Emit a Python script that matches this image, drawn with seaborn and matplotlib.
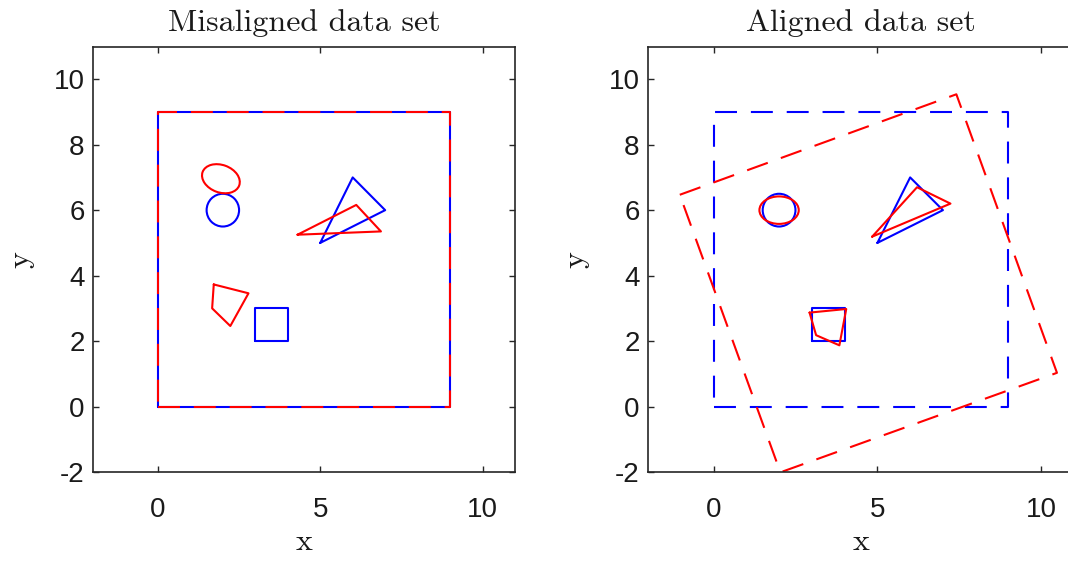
import numpy as np
import pandas as pd
import matplotlib
matplotlib.use("Agg")
import matplotlib.pyplot as plt
from matplotlib.patches import Circle, Ellipse
import seaborn as sns

# ---------------- data ----------------
# reference (blue) data set
blue_frame_x = [0, 9, 9, 0]
blue_frame_y = [0, 0, 9, 9]
blue_tri_x = [5, 6, 7]
blue_tri_y = [5, 7, 6]
blue_sq_x = [3, 4, 4, 3]
blue_sq_y = [2, 2, 3, 3]
blue_circ_center = (2.0, 6.0)
blue_circ_radius = 0.5

# misaligned (red) data set
mis_frame_x = [0, 9, 9, 0]
mis_frame_y = [0, 0, 9, 9]
mis_tri_x = [4.30, 6.11, 6.87]
mis_tri_y = [5.25, 6.16, 5.35]
mis_quad_x = [1.72, 2.79, 2.23, 1.67]
mis_quad_y = [3.73, 3.46, 2.46, 3.00]
mis_ell_center = (1.94, 6.96)
mis_ell_size = (1.20, 0.84)
mis_ell_angle = -20

# aligned (red) data set
ali_frame_x = [-1.03, 7.41, 10.48, 2.04]
ali_frame_y = [6.47, 9.54, 1.03, -2.01]
ali_tri_x = [4.84, 6.21, 7.23]
ali_tri_y = [5.19, 6.70, 6.20]
ali_quad_x = [2.93, 4.05, 3.84, 3.13]
ali_quad_y = [2.87, 2.98, 1.87, 2.18]
ali_ell_center = (2.0, 6.0)
ali_ell_size = (1.20, 0.84)
ali_ell_angle = 0

titles = ["Misaligned data set", "Aligned data set"]
xticks = [0, 5, 10]
yticks = [-2, 0, 2, 4, 6, 8, 10]

# ---------------- style ----------------
sns.set_theme(style="white")
plt.rcParams["font.family"] = ["Liberation Sans Narrow", "Liberation Sans", "DejaVu Sans"]
plt.rcParams["axes.unicode_minus"] = False
plt.rcParams["lines.scale_dashes"] = False

BLUE = "#0000ff"
RED = "#ff0000"
LW = 1.5
DASH = (0, (15.8, 10.0))
AX_COL = "#262626"


def closed(xs, ys):
    return list(xs) + [xs[0]], list(ys) + [ys[0]]


def poly(ax, xs, ys, color, ls="-", z=2):
    cx, cy = closed(xs, ys)
    df = pd.DataFrame({"x": cx, "y": cy})
    sns.lineplot(data=df, x="x", y="y", sort=False, estimator=None, ax=ax,
                 color=color, linewidth=LW, linestyle=ls, zorder=z)


fig = plt.figure(figsize=(10.68, 5.63), dpi=100)
W, H = 1068, 563
ax1 = fig.add_axes([93 / W, (H - 472) / H, 422 / W, 425.5 / H])
ax2 = fig.add_axes([648 / W, (H - 472) / H, 426 / W, 425.5 / H])

# left panel
poly(ax1, blue_frame_x, blue_frame_y, BLUE, z=2)
poly(ax1, mis_frame_x, mis_frame_y, RED, DASH, z=3)
poly(ax1, blue_tri_x, blue_tri_y, BLUE)
poly(ax1, blue_sq_x, blue_sq_y, BLUE)
ax1.add_patch(Circle(blue_circ_center, blue_circ_radius, fill=False, ec=BLUE, lw=LW))
poly(ax1, mis_tri_x, mis_tri_y, RED)
poly(ax1, mis_quad_x, mis_quad_y, RED)
ax1.add_patch(Ellipse(mis_ell_center, *mis_ell_size, angle=mis_ell_angle,
                      fill=False, ec=RED, lw=LW))

# right panel
poly(ax2, blue_frame_x, blue_frame_y, BLUE, DASH)
poly(ax2, ali_frame_x, ali_frame_y, RED, DASH)
poly(ax2, blue_tri_x, blue_tri_y, BLUE)
poly(ax2, blue_sq_x, blue_sq_y, BLUE)
ax2.add_patch(Circle(blue_circ_center, blue_circ_radius, fill=False, ec=BLUE, lw=LW))
poly(ax2, ali_tri_x, ali_tri_y, RED)
poly(ax2, ali_quad_x, ali_quad_y, RED)
ax2.add_patch(Ellipse(ali_ell_center, *ali_ell_size, angle=ali_ell_angle,
                      fill=False, ec=RED, lw=LW))

for ax, t in zip([ax1, ax2], titles):
    ax.set_xlim(-2, 11)
    ax.set_ylim(-2, 11)
    ax.set_xticks(xticks)
    ax.set_yticks(yticks)
    ax.set_xticklabels([str(v) for v in xticks])
    ax.set_yticklabels([str(v) for v in yticks])
    ax.tick_params(direction="in", length=4, width=1.0, color=AX_COL,
                   top=True, right=True, bottom=True, left=True,
                   labelsize=20, labelcolor="#1a1a1a")
    ax.tick_params(axis="x", pad=18)
    ax.tick_params(axis="y", pad=6)
    for s in ax.spines.values():
        s.set_color(AX_COL)
        s.set_linewidth(1.2)
        s.set_visible(True)
        s.set_zorder(5)
    ax.set_title(t, fontfamily="cmr10", fontsize=23, pad=11, color="#1a1a1a")
    ax.set_xlabel("x", fontfamily="cmr10", fontsize=23, labelpad=4, color="#1a1a1a")
    ax.set_ylabel("y", fontfamily="cmr10", fontsize=23, labelpad=14, color="#1a1a1a")
    ax.set_facecolor("white")

fig.savefig("out.png", dpi=100, facecolor="white")
